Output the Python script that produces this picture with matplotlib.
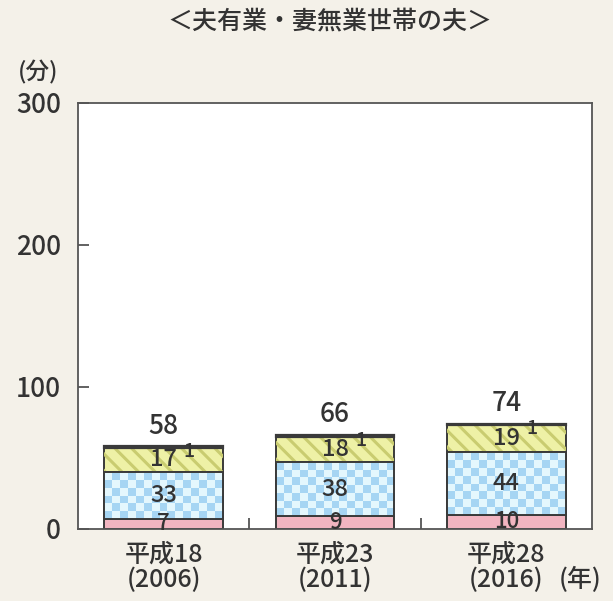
import numpy as np
import matplotlib
matplotlib.use("Agg")
import matplotlib.pyplot as plt
from matplotlib.colors import ListedColormap

plt.rcParams['font.family'] = ['Noto Sans CJK JP', 'DejaVu Sans']
plt.rcParams['font.weight'] = 'medium'
plt.rcParams['hatch.linewidth'] = 2.2

# 家事関連時間の内訳（分）
years = ["平成18\n(2006)", "平成23\n(2011)", "平成28\n(2016)"]
kaji = [7, 9, 10]          # 家事
ikuji = [33, 38, 44]       # 育児
kaigo = [17, 18, 19]       # 介護・看護 など
kaimono = [1, 1, 1]        # 買い物 など
totals = [58, 66, 74]

BG = "#f4f1e9"
EDGE = "#3a3a3a"
TXT = "#333333"

fig = plt.figure(figsize=(6.13, 6.01), dpi=100, facecolor=BG)
ax = fig.add_axes([0.127, 0.12, 0.839, 0.709])
ax.set_facecolor("white")

x = np.arange(len(years))
w = 0.69
ax.set_xlim(-0.5, 2.5)
ax.set_ylim(0, 300)

b0 = np.zeros(len(x))
b1 = b0 + np.array(kaji)
b2 = b1 + np.array(ikuji)
b3 = b2 + np.array(kaigo)

pink = ax.bar(x, kaji, w, bottom=b0, color="#f2b5c1", edgecolor=EDGE, lw=1.4, zorder=2)
blue = ax.bar(x, ikuji, w, bottom=b1, color="#a6d5f3", edgecolor=EDGE, lw=1.4, zorder=2)
yel = ax.bar(x, kaigo, w, bottom=b2, color="#eef1a6", edgecolor=EDGE, lw=1.4, zorder=2)
ax.bar(x, kaigo, w, bottom=b2, fill=False, hatch="\\\\", edgecolor="#c9cc70", lw=0, zorder=3)
top = ax.bar(x, kaimono, w, bottom=b3, color="#3d3535", edgecolor=EDGE, lw=1.6, zorder=4)

# 育児の部分は市松模様で塗る
cmap = ListedColormap(["#a6d5f3", "#e4f7fd"])
cell = 8.0
for rect in blue:
    x0, y0 = rect.get_xy()
    rw, rh = rect.get_width(), rect.get_height()
    p0 = ax.transData.transform((x0, y0))
    p1 = ax.transData.transform((x0 + rw, y0 + rh))
    nx = max(1, int(round((p1[0] - p0[0]) / cell)))
    ny = max(1, int(round((p1[1] - p0[1]) / cell)))
    grid = (np.add.outer(np.arange(ny), np.arange(nx)) % 2).astype(float)
    im = ax.imshow(grid, cmap=cmap, extent=(x0, x0 + rw, y0, y0 + rh),
                   origin="lower", interpolation="nearest", aspect="auto", zorder=2.5)
    im.set_clip_path(rect)
    ax.bar(x0 + rw / 2, rh, rw, bottom=y0, fill=False, edgecolor=EDGE, lw=1.4, zorder=4)

ax.set_xlim(-0.5, 2.5)
ax.set_ylim(0, 300)

# 数値ラベル
for i in range(len(x)):
    ax.text(x[i], b0[i] + kaji[i] / 2, str(kaji[i]), ha="center", va="center",
            fontsize=16, color=TXT, zorder=6)
    ax.text(x[i], b1[i] + ikuji[i] / 2, str(ikuji[i]), ha="center", va="center",
            fontsize=17, color=TXT, zorder=6)
    ax.text(x[i], b2[i] + kaigo[i] / 2, str(kaigo[i]), ha="center", va="center",
            fontsize=17, color=TXT, zorder=6)
    ax.text(x[i] + 0.15, b3[i] + kaimono[i] / 2 - 3, str(kaimono[i]), ha="center", va="center",
            fontsize=14, color=TXT, zorder=6)
    ax.annotate(str(totals[i]), (x[i], totals[i]), xytext=(0, 5), textcoords="offset points",
                ha="center", va="bottom", fontsize=19, color=TXT)

for s in ax.spines.values():
    s.set_color("#555555")
    s.set_linewidth(1.3)

ax.set_yticks([0, 100, 200, 300])
ax.tick_params(axis="y", direction="in", length=8, width=1.3, color="#555555",
               labelsize=19, labelcolor=TXT, pad=12)
ax.set_xticks(x)
ax.set_xticklabels(years, fontsize=18, color=TXT, linespacing=1.0)
ax.tick_params(axis="x", length=0, pad=9)
ax.set_xticks([0.5, 1.5], minor=True)
ax.tick_params(axis="x", which="minor", direction="in", length=8, width=1.3, color="#555555")

fig.text(38 / 613, 1 - 72 / 601, "(分)", ha="center", va="center", fontsize=17, color=TXT)
fig.text(580 / 613, 1 - 580 / 601, "(年)", ha="center", va="center", fontsize=18, color=TXT)
fig.text(330 / 613, 1 - 22 / 601, "＜夫有業・妻無業世帯の夫＞", ha="center", va="center",
         fontsize=18, color=TXT)

fig.savefig("out.png", dpi=100, facecolor=BG)
